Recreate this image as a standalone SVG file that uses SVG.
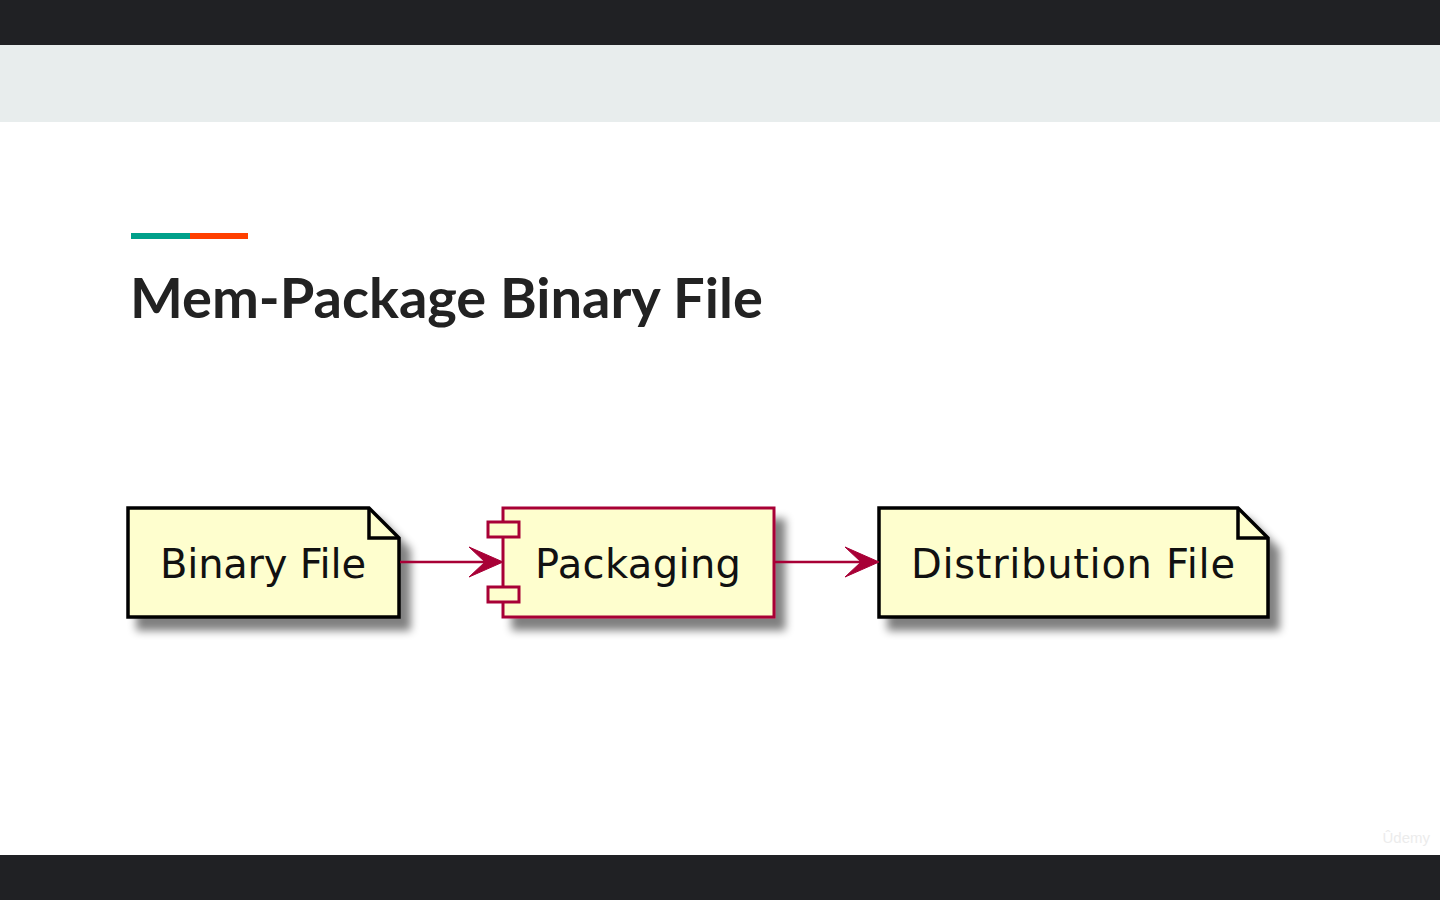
<svg xmlns="http://www.w3.org/2000/svg" width="1440" height="900" viewBox="0 0 1440 900">
<defs>
<style>
.node{fill:#FEFECE;stroke-width:3.5;stroke-linejoin:miter}
.note{stroke:#000}
.comp{stroke:#A80036;stroke-width:3}
.lbl{font-family:"DejaVu Sans",sans-serif;font-size:40px;fill:#111}
.edge{stroke:#A80036;stroke-width:2.5;fill:none}
.head{fill:#A80036;stroke:#A80036;stroke-width:1}
</style>
<filter id="sh" x="-10%" y="-20%" width="130%" height="160%">
<feGaussianBlur in="SourceAlpha" stdDeviation="4"/>
<feOffset dx="10" dy="12" result="b"/>
<feComponentTransfer><feFuncA type="linear" slope="0.5"/></feComponentTransfer>
<feMerge><feMergeNode/><feMergeNode in="SourceGraphic"/></feMerge>
</filter>
</defs>
<rect x="0" y="0" width="1440" height="900" fill="#ffffff"/>
<rect x="0" y="0" width="1440" height="45" fill="#202124"/>
<rect x="0" y="45" width="1440" height="77" fill="#E8EDED"/>
<rect x="0" y="855" width="1440" height="45" fill="#202124"/>
<rect x="131" y="233" width="59" height="6" fill="#00A08A"/>
<rect x="190" y="233" width="58" height="6" fill="#FF4000"/>
<text x="130" y="318" font-family="Lato, 'Open Sans', sans-serif" font-weight="700" font-size="56" fill="#222">Mem-Package Binary File</text>
<text x="1430" y="843" text-anchor="end" font-family="'Liberation Sans', sans-serif" font-size="15" fill="#ececec">Ûdemy</text>

<g id="binary-file">
<path class="node note" filter="url(#sh)" d="M128,508 H369 L399,538 V617 H128 Z"/>
<path class="node note" d="M369,508 V538 H399" style="fill:none"/>
<text class="lbl" x="160" y="578" textLength="206" lengthAdjust="spacing">Binary File</text>
</g>

<g id="packaging">
<rect class="node comp" filter="url(#sh)" x="503" y="508" width="271" height="109"/>
<rect class="node comp" x="488" y="522" width="31" height="15"/>
<rect class="node comp" x="488" y="587" width="31" height="15"/>
<text class="lbl" x="535" y="578" textLength="206" lengthAdjust="spacing">Packaging</text>
</g>

<g id="distribution-file">
<path class="node note" filter="url(#sh)" d="M879,508 H1238 L1268,538 V617 H879 Z"/>
<path class="node note" d="M1238,508 V538 H1268" style="fill:none"/>
<text class="lbl" x="911" y="578" textLength="324" lengthAdjust="spacing">Distribution File</text>
</g>

<g id="connectors">
<line class="edge" x1="400" y1="562" x2="490" y2="562"/>
<polygon class="head" points="503,562 469,547 485,562 469,577"/>
<line class="edge" x1="775" y1="562" x2="866" y2="562"/>
<polygon class="head" points="879,562 845,547 861,562 845,577"/>
</g>
</svg>
